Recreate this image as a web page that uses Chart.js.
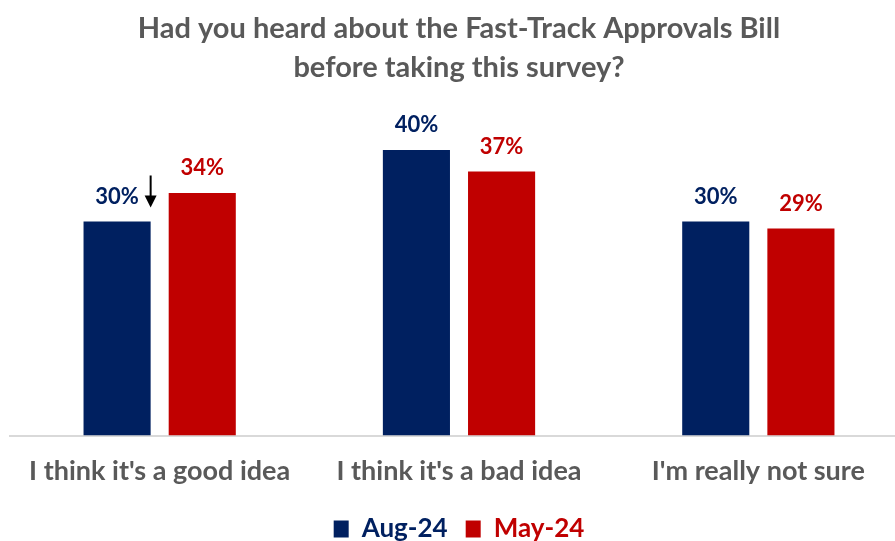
<!DOCTYPE html>
<html>
<head>
<meta charset="utf-8">
<script src="https://cdn.jsdelivr.net/npm/chart.js@4"></script>
<style>
  html, body { margin: 0; padding: 0; background: #fff; overflow: hidden; }
  #wrap { width: 912px; height: 541px; }
</style>
</head>
<body>
<div id="wrap"><canvas id="surveyChart"></canvas></div>
<script>
const categories = ["I think it's a good idea", "I think it's a bad idea", "I'm really not sure"];
const aug24 = [30, 40, 30];
const may24 = [34, 37, 29];
const seriesNames = ["Aug-24", "May-24"];
const seriesColors = ["#002060", "#C00000"];
const titleLines = ["Had you heard about the Fast-Track Approvals Bill", "before taking this survey?"];

const FONT = "Lato, 'Open Sans', sans-serif";
const GREY = "#595959";

// value labels above each bar, plus the little down arrow beside the first one
const barLabels = {
    id: "barLabels",
    afterDatasetsDraw(chart) {
        const ctx = chart.ctx;
        ctx.save();
        ctx.font = "bold 22px " + FONT;
        ctx.textAlign = "center";
        ctx.textBaseline = "bottom";
        chart.data.datasets.forEach((ds, i) => {
            const meta = chart.getDatasetMeta(i);
            meta.data.forEach((bar, j) => {
                ctx.fillStyle = seriesColors[i];
                ctx.fillText(ds.data[j] + "%", bar.x, bar.y - 14);
            });
        });

        // arrow next to the first Aug-24 label
        const first = chart.getDatasetMeta(0).data[0];
        const ax = first.x + first.width / 2;
        const top = first.y - 46;
        const tip = first.y - 14;
        ctx.strokeStyle = "#000";
        ctx.fillStyle = "#000";
        ctx.lineWidth = 2;
        ctx.beginPath();
        ctx.moveTo(ax, top);
        ctx.lineTo(ax, tip - 10);
        ctx.stroke();
        ctx.beginPath();
        ctx.moveTo(ax - 6, tip - 12);
        ctx.lineTo(ax + 6, tip - 12);
        ctx.lineTo(ax, tip);
        ctx.closePath();
        ctx.fill();
        ctx.restore();
    }
};

new Chart(document.getElementById("surveyChart"), {
    type: "bar",
    data: {
        labels: categories,
        datasets: [
            { label: seriesNames[0], data: aug24, backgroundColor: seriesColors[0] },
            { label: seriesNames[1], data: may24, backgroundColor: seriesColors[1] }
        ]
    },
    options: {
        responsive: true,
        maintainAspectRatio: false,
        animation: false,
        categoryPercentage: 0.569,
        barPercentage: 0.788,
        layout: { padding: { left: 10, right: 4, top: 0, bottom: -11 } },
        scales: {
            x: {
                grid: { display: false },
                border: { display: true, color: "#d9d9d9", width: 2 },
                ticks: {
                    color: GREY,
                    font: { family: FONT, size: 27, weight: "bold" },
                    padding: 11
                }
            },
            y: {
                display: false,
                min: 0,
                max: 47.4
            }
        },
        plugins: {
            title: {
                display: true,
                text: titleLines,
                color: GREY,
                font: { family: FONT, size: 29, weight: "bold", lineHeight: 1.35 },
                padding: { top: 9, bottom: 10 }
            },
            legend: {
                position: "bottom",
                labels: {
                    boxWidth: 15,
                    boxHeight: 17,
                    padding: 18,
                    font: { family: FONT, size: 26, weight: "bold" },
                    generateLabels(chart) {
                        return chart.data.datasets.map((ds, i) => ({
                            text: ds.label,
                            fillStyle: seriesColors[i],
                            strokeStyle: seriesColors[i],
                            lineWidth: 0,
                            fontColor: seriesColors[i],
                            datasetIndex: i
                        }));
                    }
                }
            },
            tooltip: { enabled: false }
        }
    },
    plugins: [barLabels]
});
</script>
</body>
</html>
